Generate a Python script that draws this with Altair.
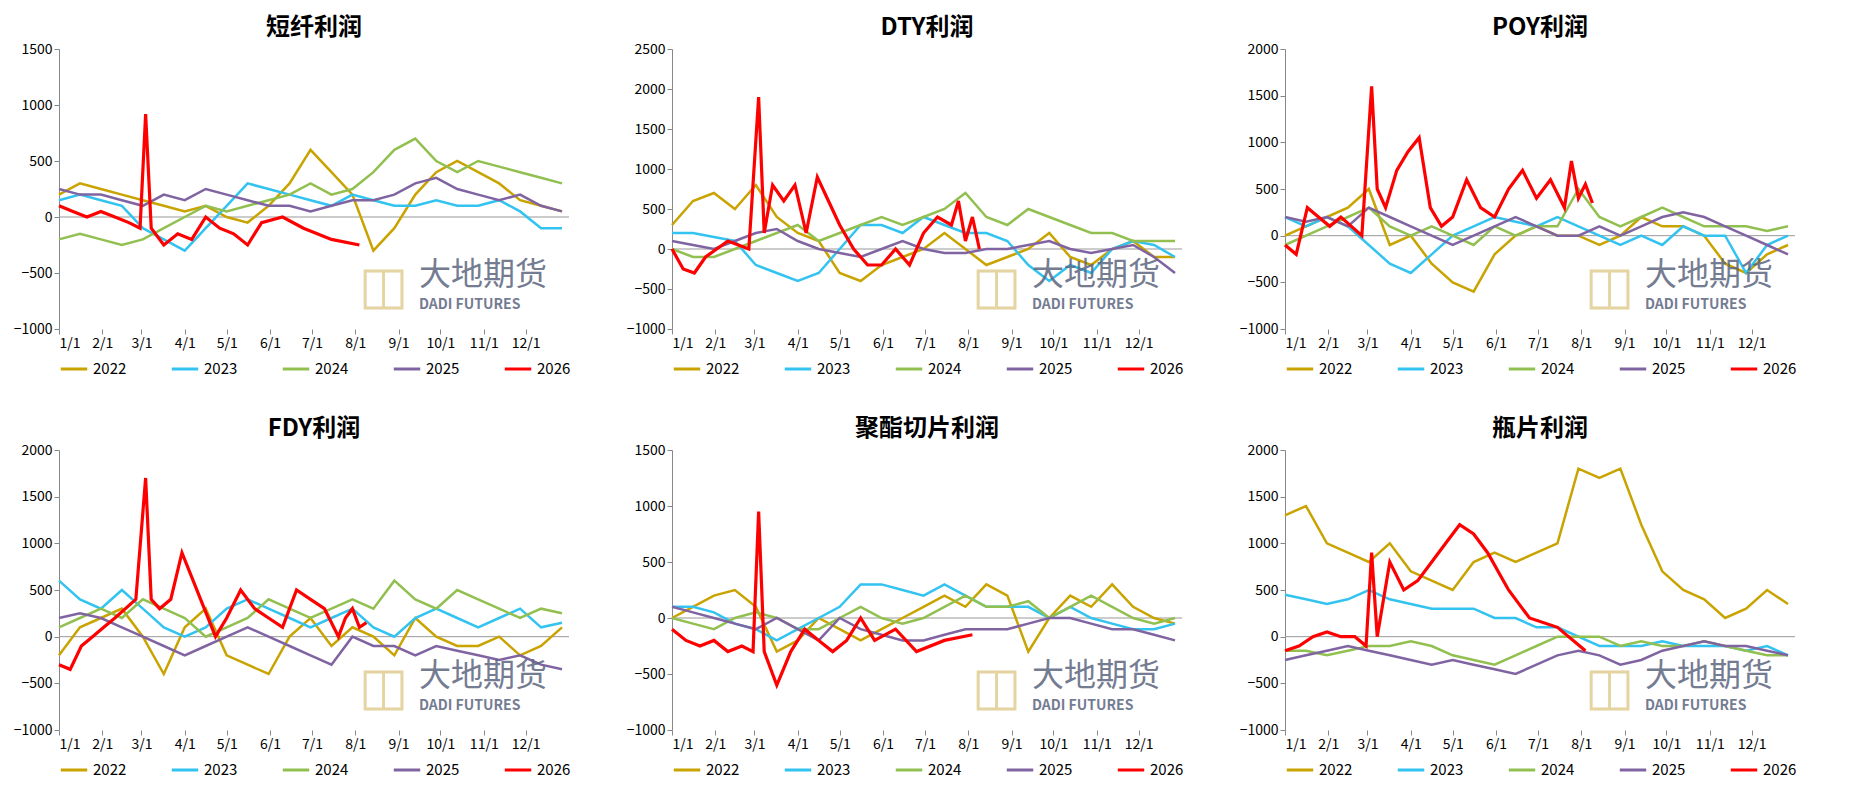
import altair as alt
import pandas as pd

YEARS = ["2022", "2023", "2024", "2025", "2026"]
COLORS = ["#C9A300", "#33C3F0", "#92C050", "#8064A2", "#FF0000"]
FULL_DAYS = list(range(0, 361, 15))
MONTH_DAYS = [0, 31, 59, 90, 120, 151, 181, 212, 243, 273, 304, 334]
MONTH_LABELS = ["1/1", "2/1", "3/1", "4/1", "5/1", "6/1", "7/1", "8/1", "9/1", "10/1", "11/1", "12/1"]

# 2026 sample days (spike just after 3/1)
D26_A = [0, 10, 20, 30, 40, 50, 58, 62, 66, 75, 85, 95, 105, 115, 125, 135, 145, 160, 175, 195, 215]
D26_B = [0, 8, 16, 24, 32, 40, 55, 62, 66, 72, 80, 88, 96, 104, 112, 120, 130, 140, 150, 160, 170,
         180, 190, 200, 205, 210, 215, 220]

sf = {
    "2022": [200, 300, 250, 200, 150, 100, 50, 100, 0, -50, 100, 300, 600, 400, 200, -300, -100, 200, 400, 500, 400, 300, 150, 100, 50],
    "2023": [150, 200, 150, 100, -100, -200, -300, -100, 100, 300, 250, 200, 150, 100, 200, 150, 100, 100, 150, 100, 100, 150, 50, -100, -100],
    "2024": [-200, -150, -200, -250, -200, -100, 0, 100, 50, 100, 150, 200, 300, 200, 250, 400, 600, 700, 500, 400, 500, 450, 400, 350, 300],
    "2025": [250, 200, 200, 150, 100, 200, 150, 250, 200, 150, 100, 100, 50, 100, 150, 150, 200, 300, 350, 250, 200, 150, 200, 100, 50],
    "2026": (D26_A, [100, 50, 0, 50, 0, -50, -100, 920, -100, -250, -150, -200, 0, -100, -150, -250, -50, 0, -100, -200, -250]),
}
dty = {
    "2022": [300, 600, 700, 500, 800, 400, 200, 100, -300, -400, -200, -100, 0, 200, 0, -200, -100, 0, 200, -100, -200, 0, 100, -100, -100],
    "2023": [200, 200, 150, 100, -200, -300, -400, -300, 0, 300, 300, 200, 400, 300, 200, 200, 100, -200, -400, -200, -300, 0, 100, 50, -100],
    "2024": [0, -100, -100, 0, 100, 200, 300, 100, 200, 300, 400, 300, 400, 500, 700, 400, 300, 500, 400, 300, 200, 200, 100, 100, 100],
    "2025": [100, 50, 0, 100, 200, 250, 100, 0, -50, -100, 0, 100, 0, -50, -50, 0, 0, 50, 100, 0, -50, 0, 50, -100, -300],
    "2026": (D26_B, [0, -250, -300, -100, 0, 100, 0, 1900, 200, 800, 600, 800, 200, 900, 600, 300, 0, -200, -200, 0, -200, 200, 400, 300, 600, 100, 400, 0]),
}
poy = {
    "2022": [0, 100, 200, 300, 500, -100, 0, -300, -500, -600, -200, 0, 100, 0, 0, -100, 0, 200, 100, 100, 0, -300, -400, -200, -100],
    "2023": [200, 100, 200, 100, -100, -300, -400, -200, 0, 100, 200, 150, 100, 200, 100, 0, -100, 0, -100, 100, 0, 0, -400, -100, 0],
    "2024": [-100, 0, 100, 200, 300, 100, 0, 100, 0, -100, 100, 0, 100, 100, 500, 200, 100, 200, 300, 200, 100, 100, 100, 50, 100],
    "2025": [200, 150, 200, 100, 300, 200, 100, 0, -100, 0, 100, 200, 100, 0, 0, 100, 0, 100, 200, 250, 200, 100, 0, -100, -200],
    "2026": (D26_B, [-100, -200, 300, 200, 100, 200, 0, 1600, 500, 300, 700, 900, 1050, 300, 100, 200, 600, 300, 200, 500, 700, 400, 600, 300, 800, 400, 550, 350]),
}
fdy = {
    "2022": [-200, 100, 200, 300, 0, -400, 100, 300, -200, -300, -400, 0, 200, -100, 100, 0, -200, 200, 0, -100, -100, 0, -200, -100, 100],
    "2023": [600, 400, 300, 500, 300, 100, 0, 100, 300, 400, 300, 200, 100, 200, 300, 100, 0, 200, 300, 200, 100, 200, 300, 100, 150],
    "2024": [100, 200, 300, 200, 400, 300, 200, 0, 100, 200, 400, 300, 200, 300, 400, 300, 600, 400, 300, 500, 400, 300, 200, 300, 250],
    "2025": [200, 250, 200, 100, 0, -100, -200, -100, 0, 100, 0, -100, -200, -300, 0, -100, -100, -200, -100, -150, -200, -250, -200, -300, -350],
    "2026": (D26_B, [-300, -350, -100, 0, 100, 200, 400, 1700, 400, 300, 400, 900, 600, 300, 0, 200, 500, 300, 200, 100, 500, 400, 300, 0, 200, 300, 100, 150]),
}
qp = {
    "2022": [0, 100, 200, 250, 100, -300, -200, 0, -100, -200, -100, 0, 100, 200, 100, 300, 200, -300, 0, 200, 100, 300, 100, 0, -50],
    "2023": [100, 100, 50, -50, -100, -200, -100, 0, 100, 300, 300, 250, 200, 300, 200, 100, 100, 100, 0, 100, 0, -50, -100, -100, -50],
    "2024": [0, -50, -100, 0, 50, 0, -100, -100, 0, 100, 0, -50, 0, 100, 200, 100, 100, 150, 0, 100, 200, 100, 0, -50, 0],
    "2025": [100, 50, 0, -50, -100, 0, -100, -200, 0, -100, -150, -200, -200, -150, -100, -100, -100, -50, 0, 0, -50, -100, -100, -150, -200],
    "2026": (D26_A, [-100, -200, -250, -200, -300, -250, -300, 950, -300, -600, -300, -100, -200, -300, -200, 0, -200, -100, -300, -200, -150]),
}
pp = {
    "2022": [1300, 1400, 1000, 900, 800, 1000, 700, 600, 500, 800, 900, 800, 900, 1000, 1800, 1700, 1800, 1200, 700, 500, 400, 200, 300, 500, 350],
    "2023": [450, 400, 350, 400, 500, 400, 350, 300, 300, 300, 200, 200, 100, 100, 0, -100, -100, -100, -50, -100, -100, -100, -150, -100, -200],
    "2024": [-150, -150, -200, -150, -100, -100, -50, -100, -200, -250, -300, -200, -100, 0, 0, 0, -100, -50, -100, -100, -50, -100, -150, -200, -200],
    "2025": [-250, -200, -150, -100, -150, -200, -250, -300, -250, -300, -350, -400, -300, -200, -150, -200, -300, -250, -150, -100, -50, -100, -100, -150, -200],
    "2026": (D26_A, [-150, -100, 0, 50, 0, 0, -100, 900, 0, 800, 500, 600, 800, 1000, 1200, 1100, 900, 500, 200, 100, -150]),
}

LABEL_EXPR = "%s[indexof(%s, datum.value)]" % (
    "[" + ",".join("'%s'" % m for m in MONTH_LABELS) + "]", str(MONTH_DAYS))

W, H = 510, 280


def _frame(series):
    rows = []
    for yr in YEARS:
        s = series[yr]
        days, vals = s if isinstance(s, tuple) else (FULL_DAYS, s)
        for d, v in zip(days, vals):
            rows.append({"year": yr, "day": d, "value": v})
    return pd.DataFrame(rows)


def panel(title, series, ymax, step):
    df = _frame(series)
    y_enc = alt.Y("value:Q", scale=alt.Scale(domain=[-1000, ymax], nice=False),
                  axis=alt.Axis(values=list(range(-1000, ymax + 1, step)), title=None, grid=False,
                                format="d", labelFontSize=14, labelColor="#000", labelOverlap=False,
                                domainColor="#888", tickColor="#888"))
    lines = alt.Chart(df).mark_line().encode(
        x=alt.X("day:Q", scale=alt.Scale(domain=[0, 365], nice=False),
                axis=alt.Axis(values=MONTH_DAYS, labelExpr=LABEL_EXPR, title=None, grid=False,
                              domain=False, labelFontSize=14, labelColor="#000", tickColor="#888")),
        y=y_enc,
        color=alt.Color("year:N", scale=alt.Scale(domain=YEARS, range=COLORS),
                        legend=alt.Legend(orient="bottom", direction="horizontal", title=None,
                                          symbolType="stroke", symbolStrokeWidth=3, symbolSize=700,
                                          labelFontSize=15, columnPadding=38, offset=4)),
        strokeWidth=alt.condition("datum.year == '2026'", alt.value(3.2), alt.value(2.5)),
        order=alt.Order("year:N"),
    )
    zero = alt.Chart(pd.DataFrame({"value": [0]})).mark_rule(color="#999", strokeWidth=1).encode(y=y_enc)
    logo = alt.Chart(pd.DataFrame({"t": ["◫"]})).mark_text(
        fontSize=52, color="#D9C27A", opacity=0.7, align="left"
    ).encode(x=alt.value(W - 210), y=alt.value(H - 42), text="t:N")
    wm1 = alt.Chart(pd.DataFrame({"t": ["大地期货"]})).mark_text(
        fontSize=32, color="#5C6680", opacity=0.85, align="left", font="Noto Sans CJK SC"
    ).encode(x=alt.value(W - 150), y=alt.value(H - 54), text="t:N")
    wm2 = alt.Chart(pd.DataFrame({"t": ["DADI FUTURES"]})).mark_text(
        fontSize=14, color="#5C6680", opacity=0.85, align="left", fontWeight="bold"
    ).encode(x=alt.value(W - 150), y=alt.value(H - 24), text="t:N")
    return (zero + lines + logo + wm1 + wm2).properties(
        width=W, height=H,
        title=alt.TitleParams(title, fontSize=24, fontWeight="bold", font="Noto Sans CJK SC", offset=2))


row1 = alt.hconcat(panel("短纤利润", sf, 1500, 500), panel("DTY利润", dty, 2500, 500),
                   panel("POY利润", poy, 2000, 500), spacing=55).resolve_scale(color="independent")
row2 = alt.hconcat(panel("FDY利润", fdy, 2000, 500), panel("聚酯切片利润", qp, 1500, 500),
                   panel("瓶片利润", pp, 2000, 500), spacing=55).resolve_scale(color="independent")
chart = alt.vconcat(row1, row2, spacing=40).resolve_scale(color="independent").configure(
    font="Noto Sans CJK SC", padding={"top": 8, "left": 5, "right": 5, "bottom": 5}
).configure_view(stroke=None)
chart.save("out.html", embed_options={"renderer": "svg", "actions": False})
